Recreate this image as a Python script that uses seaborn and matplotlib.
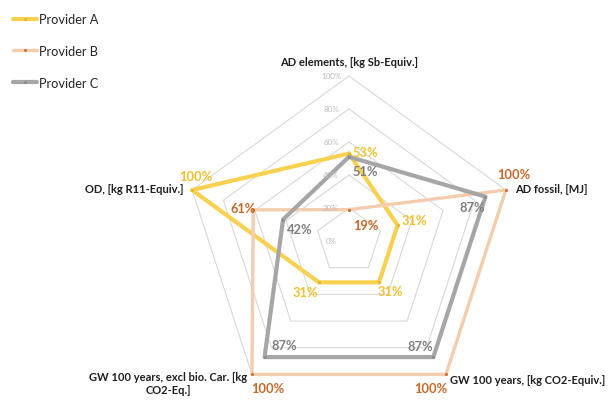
import numpy as np
import pandas as pd
import matplotlib
matplotlib.use("Agg")
import matplotlib.pyplot as plt
import seaborn as sns

# ---- data ---------------------------------------------------------------
categories = [
    "AD elements, [kg Sb-Equiv.]",
    "AD fossil, [MJ]",
    "GW 100 years, [kg CO2-Equiv.]",
    "GW 100 years, excl bio. Car. [kg\nCO2-Eq.]",
    "OD, [kg R11-Equiv.]",
]
providers = ["Provider A", "Provider B", "Provider C"]
provider_a = [53, 31, 31, 31, 100]
provider_b = [19, 100, 100, 100, 61]
provider_c = [51, 87, 87, 87, 42]
grid_levels = [0, 20, 40, 60, 80, 100]
tick_labels = ["0%", "20%", "40%", "60%", "80%", "100%"]

# ---- styling ------------------------------------------------------------
sns.set_theme(style="white")
plt.rcParams["font.family"] = ["Lato", "DejaVu Sans"]

line_colors = {"Provider A": "#F9D150", "Provider B": "#F3CDAE", "Provider C": "#A6A6A6"}
marker_colors = {"Provider A": "#E9B424", "Provider B": "#C8743A", "Provider C": "#8C8C8C"}
label_colors = {"Provider A": "#F2C12E", "Provider B": "#C5692A", "Provider C": "#7F7F7F"}
line_widths = {"Provider A": 3.0, "Provider B": 2.4, "Provider C": 3.0}

n = len(categories)
angles = np.arange(n) * 2 * np.pi / n
closed = np.append(angles, 2 * np.pi)

rows = []
for name, vals in zip(providers, [provider_a, provider_b, provider_c]):
    vv = list(vals) + [vals[0]]
    for t, v in zip(closed, vv):
        rows.append({"provider": name, "theta": t, "r": v / 100.0})
df = pd.DataFrame(rows)

fig = plt.figure(figsize=(6.09, 4.06), dpi=100)
fig.patch.set_facecolor("white")
ax = fig.add_axes([0.275, -0.043, 0.596, 0.894], projection="polar")
ax.set_theta_offset(np.pi / 2)
ax.set_theta_direction(-1)
ax.patch.set_alpha(0)
ax.grid(False)
ax.spines["polar"].set_visible(False)

# pentagon gridlines
for lvl in grid_levels[1:]:
    ax.plot(closed, [lvl / 100.0] * len(closed), color="#d9d9d9", lw=0.8, zorder=0)

# series lines
for name in providers:
    sub = df[df["provider"] == name]
    sns.lineplot(
        data=sub, x="theta", y="r", sort=False, estimator=None, ax=ax,
        color=line_colors[name], lw=line_widths[name], label=name,
        marker="o", markersize=2.2, markerfacecolor=marker_colors[name],
        markeredgewidth=0,
    )
for ln in ax.get_lines():
    ln.set_clip_on(False)

ax.set_ylim(0, 1.1)
ax.set_xticks([])
ax.set_yticks([])
ax.set_xlabel("")
ax.set_ylabel("")
if ax.get_legend() is not None:
    ax.get_legend().remove()

# radial tick labels
for lvl, lab in zip(grid_levels, tick_labels):
    ax.annotate(lab, xy=(0, lvl / 100.0), xytext=(-18, 0), textcoords="offset pixels",
                ha="center", va="center", fontsize=5.7, color="#bdbdbd")

# category labels
cat_offsets = [(0, 14, "center"), (9, 1, "left"), (4, -5, "left"), (-5, -8.5, "right"), (-9, 1, "right")]
for ang, cat, (dx, dy, ha) in zip(angles, categories, cat_offsets):
    ax.annotate(cat, xy=(ang, 1.0), xytext=(dx, dy), textcoords="offset pixels",
                ha=ha, va="center", multialignment="center", fontsize=8.0,
                fontweight="bold", color="#1f1f1f")

# value labels
value_offsets = {
    "Provider A": [(16, 2), (17, 5), (11, -9), (-14, -10), (4, 14)],
    "Provider B": [(17, -15), (8, 16), (-15, -14), (16, -14), (-10, 2)],
    "Provider C": [(16, -14), (-13, -10), (-13, 11), (20, 12), (17, -9)],
}
for name, vals in zip(providers, [provider_a, provider_b, provider_c]):
    for ang, v, (dx, dy) in zip(angles, vals, value_offsets[name]):
        ax.annotate(f"{v}%", xy=(ang, v / 100.0), xytext=(dx, dy), textcoords="offset pixels",
                    ha="center", va="center", fontsize=9.3, fontweight="bold",
                    color=label_colors[name])

# legend
handles = [ln for ln in ax.get_lines() if ln.get_label() in providers]
fig.legend(handles=handles, labels=providers, loc="upper left",
           bbox_to_anchor=(13 / 609, 1 - 14 / 406), frameon=False,
           borderaxespad=0, borderpad=0, handlelength=1.9, handletextpad=0.1,
           labelspacing=1.55, fontsize=9.2, labelcolor="#262626")

fig.savefig("out.png", dpi=100, facecolor="white")
